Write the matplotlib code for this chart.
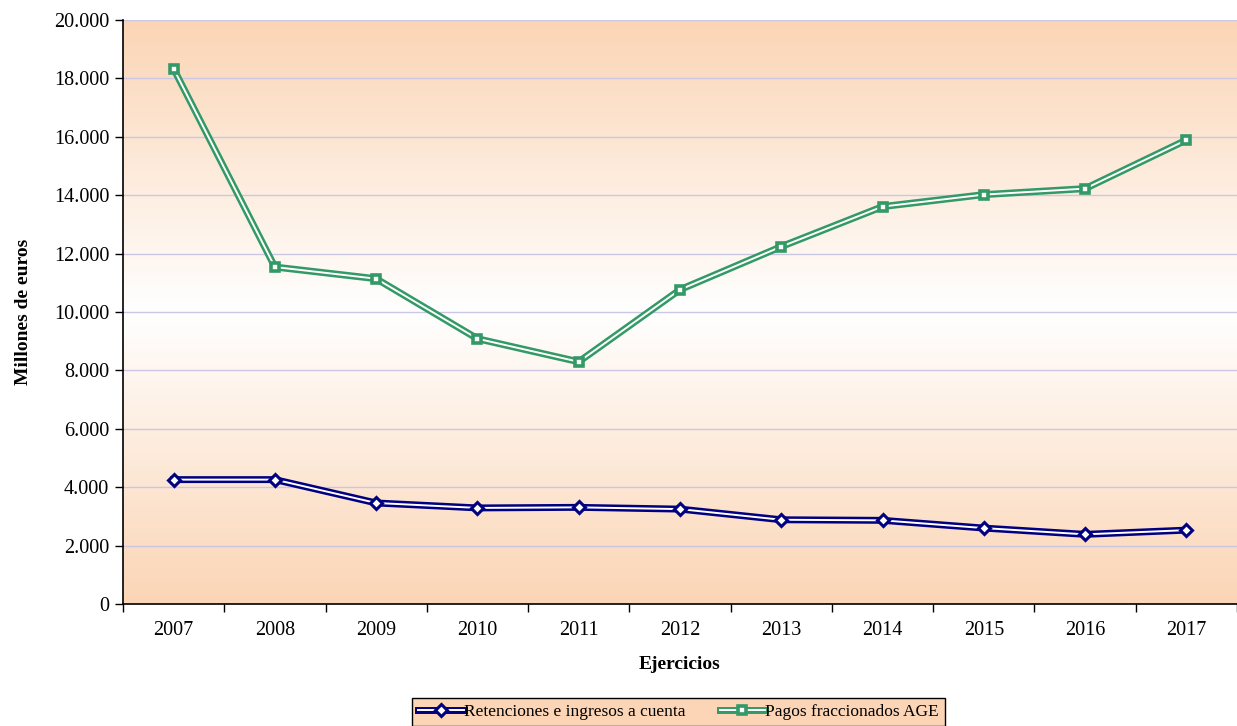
import numpy as np
import matplotlib.pyplot as plt
import matplotlib.patheffects as pe
from matplotlib.colors import LinearSegmentedColormap
from matplotlib.ticker import FuncFormatter
from matplotlib.legend_handler import HandlerTuple

plt.rcParams['font.family'] = ['Liberation Serif', 'DejaVu Serif']

years = ['2007', '2008', '2009', '2010', '2011', '2012', '2013', '2014', '2015', '2016', '2017']
retenciones = [4260, 4260, 3460, 3290, 3310, 3250, 2885, 2865, 2600, 2385, 2530]
pagos = [18330, 11540, 11140, 9085, 8295, 10765, 12240, 13610, 14020, 14225, 15890]

navy = '#000080'
green = '#339966'
peach = '#FBD5B5'

fig = plt.figure(figsize=(12.37, 7.26), dpi=100)
ax = fig.add_axes([123 / 1237, 1 - 604 / 726, 1 - 123 / 1237, (604 - 20) / 726])

# fondo degradado: melocoton - blanco - melocoton
cmap = LinearSegmentedColormap.from_list('bg', [peach, '#FFFFFF', peach])
grad = np.linspace(0, 1, 256).reshape(-1, 1)
ax.imshow(grad, cmap=cmap, aspect='auto', extent=[0, 1, 0, 1], transform=ax.transAxes, zorder=0)

x = np.arange(len(years))


def double_line(vals, color, marker, ms, mew, label):
    effects = [pe.Stroke(linewidth=5, foreground=color), pe.Normal()]
    ax.plot(x, vals, color='white', lw=1.4, zorder=3, path_effects=effects)
    ax.plot(x, vals, linestyle='none', marker=marker, ms=ms, mfc='white', mec=color, mew=mew, zorder=4)
    h_line, = ax.plot([], [], color='white', lw=1.4, path_effects=effects)
    h_mark, = ax.plot([], [], linestyle='none', marker=marker, ms=ms, mfc='white', mec=color, mew=mew)
    return (h_line, h_mark), label


handles = [double_line(retenciones, navy, 'D', 6.5, 2.2, 'Retenciones e ingresos a cuenta'),
           double_line(pagos, green, 's', 5.5, 2.6, 'Pagos fraccionados AGE')]

ax.set_xlim(-0.5, len(years) - 0.5)
ax.set_ylim(0, 20000)
ax.set_yticks(np.arange(0, 20001, 2000))
ax.yaxis.set_major_formatter(FuncFormatter(lambda v, p: f'{v:,.0f}'.replace(',', '.')))
ax.set_xticks(x)
ax.set_xticklabels(years)
ax.set_xticks(np.arange(-0.5, len(years), 1), minor=True)
ax.tick_params(axis='x', which='major', length=0, pad=12, labelsize=14.5)
ax.tick_params(axis='x', which='minor', length=6, direction='out', width=1)
ax.tick_params(axis='y', length=6, direction='out', width=1, labelsize=14.5, pad=4)

ax.grid(axis='y', color='#CBC7E3', lw=1)
ax.set_axisbelow(True)
for s in ['top', 'right']:
    ax.spines[s].set_visible(False)
for s in ['left', 'bottom']:
    ax.spines[s].set_linewidth(1.2)

ax.set_ylabel('Millones de euros', fontsize=14, fontweight='bold', labelpad=16)
ax.set_xlabel('Ejercicios', fontsize=14, fontweight='bold', labelpad=12)

leg = fig.legend([h for h, l in handles], [l for h, l in handles],
                 handler_map={tuple: HandlerTuple(ndivide=1, pad=0)},
                 loc='upper center', bbox_to_anchor=(0.5485, 1 - 698 / 726), ncol=2,
                 fontsize=12.5, frameon=True, fancybox=False, framealpha=1,
                 edgecolor='black', facecolor=peach, handlelength=2.6, handletextpad=0,
                 columnspacing=2.0, borderpad=0.35, borderaxespad=0)
leg.get_frame().set_linewidth(1)

fig.savefig('out.png', dpi=100)
